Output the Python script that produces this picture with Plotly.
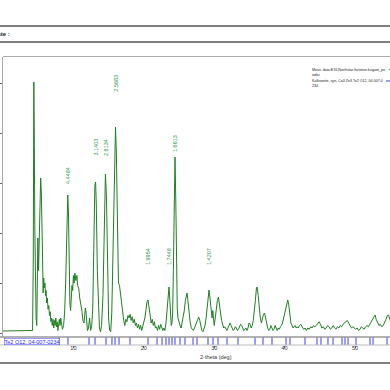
import plotly.graph_objects as go

# ---------------- data ----------------
scan = [
    (0.0, 8), (4.1, 8), (4.2, 10), (4.3, 300), (4.38, 1004), (4.45, 750), (4.52, 420), (4.6, 150),
    (4.7, 60), (4.8, 30), (4.88, 300), (4.95, 380), (5.05, 250), (5.15, 420), (5.25, 560), (5.35, 620),
    (5.45, 560), (5.55, 460), (5.62, 300), (5.7, 160), (5.78, 220), (5.85, 180), (5.95, 200), (6.05, 150),
    (6.12, 170), (6.2, 120), (6.3, 140), (6.4, 95), (6.5, 110), (6.6, 70), (6.7, 85), (6.8, 45),
    (6.9, 60), (7.0, 30), (7.1, 55), (7.2, 20), (7.3, 50), (7.4, 30), (7.5, 60), (7.6, 25),
    (7.7, 45), (7.8, 10), (7.9, 40), (8.0, 55), (8.1, 30), (8.2, 60), (8.3, 40), (8.45, 15),
    (8.6, 30), (8.75, 80), (8.9, 200), (9.05, 420), (9.2, 552), (9.3, 480), (9.4, 250), (9.5, 120),
    (9.6, 90), (9.7, 130), (9.8, 190), (9.9, 170), (10.0, 230), (10.1, 200), (10.2, 240), (10.35, 210),
    (10.5, 230), (10.6, 190), (10.75, 180), (10.9, 140), (11.05, 120), (11.2, 90), (11.35, 50), (11.5, 40),
    (11.6, 70), (11.7, 100), (11.8, 80), (11.9, 40), (12.0, 10), (12.15, 20), (12.3, 60), (12.45, 10),
    (12.6, 30), (12.75, 100), (12.9, 400), (13.05, 590), (13.15, 604), (13.25, 520), (13.4, 250), (13.55, 80),
    (13.7, 20), (13.85, 5), (14.0, 30), (14.2, 150), (14.4, 480), (14.55, 636), (14.7, 540), (14.85, 250),
    (15.0, 60), (15.15, 10), (15.3, 5), (15.45, 80), (15.65, 420), (15.85, 760), (15.98, 824), (16.1, 720),
    (16.25, 400), (16.4, 200), (16.55, 190), (16.7, 150), (16.85, 110), (17.0, 70), (17.15, 50), (17.3, 30),
    (17.45, 55), (17.6, 45), (17.75, 70), (17.9, 60), (18.05, 75), (18.2, 50), (18.35, 65), (18.5, 40),
    (18.65, 55), (18.8, 30), (18.95, 40), (19.1, 20), (19.25, 35), (19.4, 15), (19.55, 30), (19.7, 10),
    (19.85, 25), (20.0, 40), (20.15, 60), (20.3, 90), (20.45, 125), (20.6, 132), (20.75, 100), (20.9, 60),
    (21.05, 40), (21.2, 55), (21.35, 30), (21.5, 45), (21.65, 20), (21.8, 25), (21.95, 10), (22.1, 30),
    (22.25, 15), (22.4, 35), (22.55, 25), (22.7, 10), (22.85, 20), (23.0, 10), (23.15, 40), (23.3, 100),
    (23.45, 170), (23.58, 184), (23.7, 130), (23.8, 60), (23.9, 30), (24.0, 40), (24.1, 80), (24.2, 250),
    (24.3, 520), (24.43, 704), (24.55, 520), (24.65, 250), (24.75, 100), (24.85, 60), (25.0, 40), (25.15, 30),
    (25.3, 20), (25.45, 40), (25.6, 60), (25.75, 90), (25.9, 130), (26.05, 150), (26.15, 160), (26.3, 120),
    (26.45, 70), (26.6, 40), (26.75, 20), (26.9, 15), (27.05, 10), (27.2, 20), (27.35, 30), (27.5, 45),
    (27.65, 55), (27.8, 64), (27.95, 50), (28.1, 25), (28.25, 10), (28.4, 5), (28.55, 15), (28.7, 30),
    (28.85, 60), (29.0, 110), (29.15, 160), (29.26, 172), (29.4, 140), (29.55, 80), (29.7, 60), (29.8, 90),
    (29.9, 40), (30.0, 30), (30.15, 60), (30.3, 100), (30.45, 130), (30.6, 144), (30.75, 120), (30.9, 80),
    (31.05, 50), (31.2, 30), (31.35, 20), (31.5, 25), (31.65, 15), (31.8, 10), (31.95, 20), (32.1, 30),
    (32.25, 40), (32.4, 30), (32.55, 20), (32.7, 10), (32.85, 15), (33.0, 25), (33.15, 20), (33.3, 10),
    (33.45, 15), (33.6, 25), (33.75, 35), (33.9, 30), (34.05, 15), (34.2, 10), (34.35, 15), (34.5, 20),
    (34.65, 10), (34.8, 20), (34.95, 40), (35.1, 35), (35.25, 20), (35.4, 30), (35.55, 50), (35.7, 80),
    (35.85, 130), (36.0, 180), (36.1, 184), (36.25, 150), (36.4, 100), (36.55, 60), (36.7, 40), (36.85, 60),
    (37.0, 75), (37.15, 80), (37.3, 60), (37.45, 35), (37.6, 20), (37.75, 10), (37.9, 15), (38.05, 30),
    (38.2, 20), (38.35, 10), (38.5, 15), (38.65, 30), (38.8, 20), (38.95, 10), (39.1, 20), (39.25, 15),
    (39.4, 25), (39.55, 30), (39.7, 40), (39.85, 60), (40.0, 80), (40.15, 100), (40.3, 120), (40.45, 132),
    (40.6, 110), (40.75, 70), (40.9, 40), (41.05, 30), (41.2, 20), (41.35, 25), (41.5, 30), (41.65, 20),
    (41.8, 25), (41.95, 20), (42.1, 30), (42.3, 35), (42.5, 25), (42.7, 15), (42.9, 20), (43.1, 10),
    (43.3, 20), (43.5, 15), (43.7, 25), (43.9, 20), (44.1, 30), (44.3, 25), (44.5, 30), (44.7, 40),
    (44.9, 45), (45.1, 35), (45.3, 20), (45.5, 25), (45.7, 15), (45.9, 20), (46.1, 30), (46.3, 25),
    (46.5, 15), (46.7, 20), (46.9, 30), (47.1, 20), (47.3, 15), (47.5, 25), (47.7, 20), (47.9, 30),
    (48.1, 25), (48.3, 35), (48.5, 40), (48.7, 45), (48.9, 50), (49.1, 40), (49.3, 30), (49.5, 20),
    (49.7, 25), (49.9, 20), (50.1, 15), (50.3, 20), (50.5, 10), (50.7, 15), (50.9, 25), (51.1, 20),
    (51.3, 15), (51.5, 25), (51.7, 30), (51.9, 25), (52.1, 35), (52.3, 45), (52.5, 60), (52.7, 70),
    (52.85, 72), (53.0, 55), (53.2, 40), (53.4, 30), (53.6, 35), (53.8, 25), (54.0, 30), (54.2, 40),
    (54.4, 55), (54.6, 70), (54.75, 72), (54.9, 60), (55.0, 50),
]
two_theta = [p[0] for p in scan]
counts = [p[1] for p in scan]

ref_2theta = [7.95, 9.23, 12.22, 13.07, 14.63, 15.48, 15.91, 16.48, 18.04, 20.60, 21.88, 22.59,
              23.15, 23.58, 24.01, 24.43, 25.14, 25.85, 26.99, 27.56, 29.12, 29.83, 30.54, 31.82,
              33.38, 35.80, 36.93, 38.21, 40.20, 40.77, 42.90, 44.60, 45.17, 46.16, 46.88, 48.15,
              48.58, 49.01, 50.14, 52.13, 52.56, 54.55]

peak_pos = [9.23, 13.14, 14.63, 16.0, 20.6, 23.58, 24.43, 29.26]
peak_d = ["4.4484", "3.1403", "2.8134", "2.5683", "1.9954", "1.7448", "1.6613", "1.4207"]
peak_label_y = [632, 744, 740, 1000, 304, 304, 760, 304]

y_ticks = [0, 200, 400, 600, 800, 1000]
x_ticks = [10, 20, 30, 40, 50]

# ---------------- figure ----------------
W = H = 390


def py(p):
    return 1 - p / H


def px(p):
    return p / W


fig = go.Figure()
fig.add_trace(go.Scatter(x=two_theta, y=counts, mode="lines",
                         line=dict(color="#1f7f24", width=1), xaxis="x", yaxis="y",
                         hoverinfo="skip"))

sx, sy = [], []
for t in ref_2theta:
    sx += [t, t, None]
    sy += [0, 1, None]
fig.add_trace(go.Scatter(x=sx, y=sy, mode="lines", line=dict(color="#3a3aff", width=1),
                         xaxis="x", yaxis="y2", hoverinfo="skip"))

annotations = []
for x, d, yy in zip(peak_pos, peak_d, peak_label_y):
    annotations.append(dict(x=x, y=yy, xref="x", yref="y", text=d, showarrow=False,
                            textangle=-90, font=dict(size=5.5, color="#2e9a4e", family="Arial"),
                            xanchor="center", yanchor="middle"))

annotations += [
    dict(x=px(12), y=py(34), xref="paper", yref="paper", text="<b>Date :</b>", showarrow=False,
         xanchor="right", yanchor="middle", font=dict(size=6, color="#222", family="Arial")),
    dict(x=px(12), y=py(40), xref="paper", yref="paper", text=":", showarrow=False,
         xanchor="center", yanchor="middle", font=dict(size=5, color="#888", family="Arial")),
    dict(x=px(4), y=py(341), xref="paper", yref="paper", text="Te2 O12, 04-007-0234",
         showarrow=False, xanchor="left", yanchor="middle", bgcolor="white",
         bordercolor="#3a3aff", borderwidth=0.5, borderpad=0,
         font=dict(size=5.5, color="#2a2aff", family="Arial")),
    dict(x=px(198), y=py(357), xref="paper", yref="paper", text="2-theta (deg)", showarrow=False,
         xanchor="left", yanchor="middle", font=dict(size=5.5, color="#333", family="Arial")),
    dict(x=px(310), y=py(72), xref="paper", yref="paper",
         text="Meas. data:E16-Northstar-fortstew-kugam_po<br>wder", showarrow=False,
         xanchor="left", yanchor="middle", align="left",
         font=dict(size=3.6, color="#222", family="Arial")),
    dict(x=px(310), y=py(83), xref="paper", yref="paper",
         text="Kalksonite, syn, Ca3 Zn3 Te2 O12, 04-007-0<br>234", showarrow=False,
         xanchor="left", yanchor="middle", align="left",
         font=dict(size=3.6, color="#222", family="Arial")),
]

shapes = [
    dict(type="line", xref="paper", yref="paper", x0=0, x1=1, y0=py(26), y1=py(26),
         line=dict(color="#555", width=1.5)),
    dict(type="line", xref="paper", yref="paper", x0=0, x1=1, y0=py(42), y1=py(42),
         line=dict(color="#555", width=1.5)),
    dict(type="line", xref="paper", yref="paper", x0=0, x1=1, y0=py(363), y1=py(363),
         line=dict(color="#555", width=1.5)),
    dict(type="line", xref="paper", yref="paper", x0=px(3), x1=1, y0=py(56.5), y1=py(56.5),
         line=dict(color="#aaa", width=1)),
    dict(type="line", xref="paper", yref="paper", x0=0, x1=1, y0=py(337), y1=py(337),
         line=dict(color="#999", width=1.5)),
    dict(type="line", xref="paper", yref="paper", x0=0, x1=1, y0=py(345), y1=py(345),
         line=dict(color="#bbb", width=1)),
    dict(type="line", xref="paper", yref="paper", x0=px(389), x1=px(390), y0=py(69.5), y1=py(69.5),
         line=dict(color="#2e9a4e", width=1)),
    dict(type="line", xref="paper", yref="paper", x0=px(386), x1=px(390), y0=py(81), y1=py(81),
         line=dict(color="#3a3aff", width=1)),
]

fig.update_layout(
    width=W, height=H, margin=dict(l=0, r=0, t=0, b=0),
    paper_bgcolor="white", plot_bgcolor="white", showlegend=False,
    xaxis=dict(domain=[px(3), 1], range=[0, 54.97], anchor="y2", showgrid=False,
               zeroline=False, showline=False, tickvals=x_ticks, ticks="outside",
               ticklen=2, tickcolor="#666", tickfont=dict(size=5.5, color="#333", family="Arial"),
               ticklabelstandoff=-5, automargin=False),
    yaxis=dict(domain=[py(337), py(57)], range=[-16, 1104], anchor="x", showgrid=False,
               zeroline=False, showline=True, linecolor="#aaa", linewidth=1,
               tickvals=y_ticks, ticks="outside", ticklen=3, tickcolor="#666",
               tickfont=dict(size=6, color="#333"), automargin=False),
    yaxis2=dict(domain=[py(345), py(337)], range=[0, 1], anchor="x", showgrid=False,
                zeroline=False, showline=False, showticklabels=False, automargin=False),
    annotations=annotations, shapes=shapes,
)

fig.write_html("out.html")
